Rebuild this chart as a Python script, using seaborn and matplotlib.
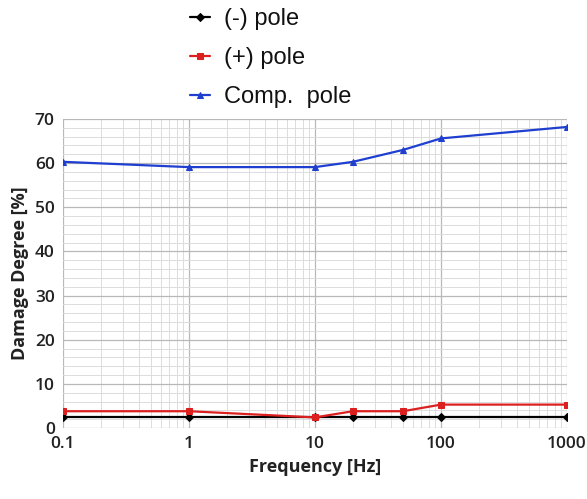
import matplotlib
matplotlib.use("Agg")
import matplotlib.pyplot as plt
import matplotlib.ticker as mticker
import pandas as pd
import seaborn as sns

sns.set_theme(style="white")
plt.rcParams["font.family"] = ["Open Sans", "DejaVu Sans"]

freq = [0.1, 1, 10, 20, 50, 100, 1000]
neg_pole = [2.4, 2.4, 2.4, 2.4, 2.4, 2.4, 2.4]
pos_pole = [3.8, 3.8, 2.4, 3.8, 3.8, 5.3, 5.3]
comp_pole = [60.3, 59.1, 59.1, 60.3, 63.0, 65.6, 68.2]

series = [
    ("(-) pole", neg_pole, "#000000", "D", 4),
    ("(+) pole", pos_pole, "#dc1f1f", "s", 5),
    ("Comp.  pole", comp_pole, "#1f3fd0", "^", 5),
]

fig = plt.figure(figsize=(5.87, 4.99), dpi=100)
ax = fig.add_axes([63 / 587, 1 - 428 / 499, 504 / 587, 309 / 499])

for name, vals, color, marker, ms in series:
    df = pd.DataFrame({"f": freq, "v": vals})
    sns.lineplot(data=df, x="f", y="v", ax=ax, color=color, marker=marker,
                 markersize=ms, markeredgecolor=color, linewidth=1.6,
                 label=name, zorder=3)

ax.set_xscale("log")
ax.set_xlim(0.1, 1000)
ax.set_ylim(0, 70)
ax.set_yticks(range(0, 71, 10))
ax.yaxis.set_minor_locator(mticker.MultipleLocator(2))
ax.xaxis.set_major_formatter(mticker.FuncFormatter(lambda v, p: f"{v:g}"))
ax.xaxis.set_minor_locator(mticker.LogLocator(subs=range(2, 10)))
ax.xaxis.set_minor_formatter(mticker.NullFormatter())

ax.grid(which="major", color="#b8b8b8", linewidth=0.9)
ax.grid(which="minor", color="#dcdcdc", linewidth=0.7)
for s in ax.spines.values():
    s.set_visible(False)
ax.tick_params(which="both", length=0, labelsize=12.5, colors="#222222", pad=6)
for lab in ax.get_xticklabels() + ax.get_yticklabels():
    lab.set_fontweight("semibold")

ax.set_xlabel("Frequency [Hz]", fontsize=13, fontweight="bold", color="#222222")
ax.set_ylabel("Damage Degree [%]", fontsize=13, fontweight="bold", color="#222222")

leg = ax.legend(loc="upper left", bbox_to_anchor=(176 / 587, 1.012),
                bbox_transform=fig.transFigure, frameon=False,
                handlelength=0.85, labelspacing=0.72, handletextpad=0.6,
                borderpad=0.1, prop={"family": ["Liberation Sans"], "size": 17})
for t in leg.get_texts():
    t.set_color("#111111")

fig.savefig("out.png", dpi=100)
